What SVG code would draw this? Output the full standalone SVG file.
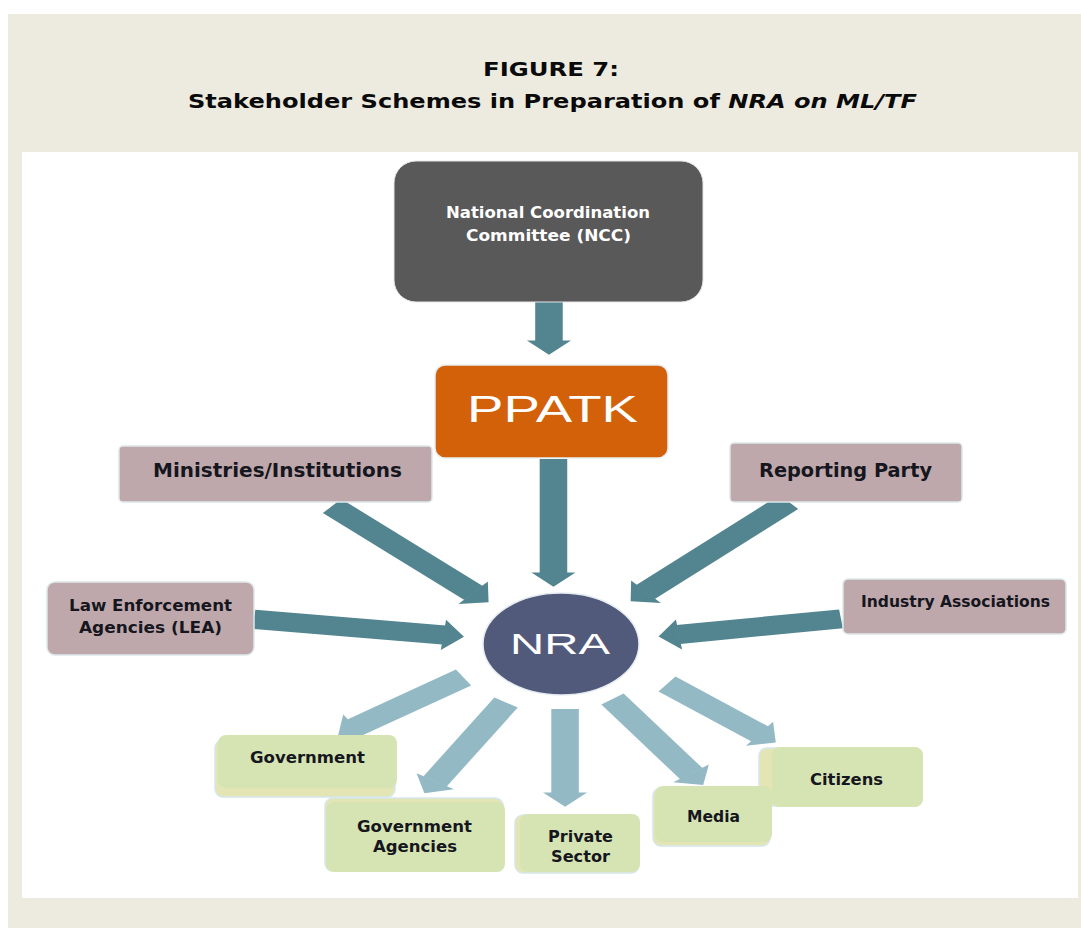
<svg xmlns="http://www.w3.org/2000/svg" width="1081" height="928" viewBox="0 0 1081 928">
<style>
.t{font-family:"DejaVu Sans","Liberation Sans",sans-serif;font-weight:bold}
.title{font-size:19.5px;fill:#0a0a0a}
.w{fill:#fff}
.lbl{fill:#16161e}
.mauve{fill:#BEA8AB;stroke:#DDE8EA;stroke-width:1.5}
.gb{fill:#E3E6B4;stroke:#D6E6EA;stroke-width:1.5}
.gf{fill:#D6E4B3}
.dk{stroke:#52858F;stroke-width:19;fill:none}
.lt{stroke:#93BAC4;stroke-width:19;fill:none}
.big{font-family:"Liberation Sans","DejaVu Sans",sans-serif;font-weight:normal;fill:#fff}
</style>
<defs>
<marker id="hdk" viewBox="0 -0.8 0.75 1.6" markerWidth="0.75" markerHeight="1.6" refX="0.02" refY="0" orient="auto" markerUnits="strokeWidth" overflow="visible"><path d="M0,-0.8 L0.75,0 L0,0.8 Z" fill="#52858F"/></marker>
<marker id="hlt" viewBox="0 -0.8 0.75 1.6" markerWidth="0.75" markerHeight="1.6" refX="0.02" refY="0" orient="auto" markerUnits="strokeWidth" overflow="visible"><path d="M0,-0.8 L0.75,0 L0,0.8 Z" fill="#93BAC4"/></marker>
</defs>
<rect x="8" y="14" width="1073" height="914" fill="#EDEADF"/>
<rect x="22" y="152" width="1056" height="746" fill="#FFFFFF"/>
<g id="title">
<text class="t title" x="483" y="76" textLength="136" lengthAdjust="spacingAndGlyphs">FIGURE 7:</text>
<text class="t title" x="188" y="108" textLength="729" lengthAdjust="spacingAndGlyphs">Stakeholder Schemes in Preparation of <tspan font-style="italic">NRA on ML/TF</tspan></text>
</g>
<g id="connectors" transform="scale(1.45,1)">
<line class="dk" x1="378.6" y1="300" x2="378.6" y2="341" marker-end="url(#hdk)"/>
<line class="dk" x1="381.7" y1="459" x2="381.7" y2="573" marker-end="url(#hdk)"/>
<line class="dk" x1="229" y1="506" x2="326.6" y2="593" marker-end="url(#hdk)"/>
<line class="dk" x1="544.1" y1="502" x2="445.2" y2="592" marker-end="url(#hdk)"/>
<line class="dk" x1="175" y1="619.3" x2="306.2" y2="635" marker-end="url(#hdk)"/>
<line class="dk" x1="580" y1="618.8" x2="467.9" y2="634.5" marker-end="url(#hdk)"/>
<line class="lt" x1="319.7" y1="677.5" x2="244.8" y2="727.3" marker-end="url(#hlt)"/>
<line class="lt" x1="349" y1="702.5" x2="300" y2="781.5" marker-end="url(#hlt)"/>
<line class="lt" x1="389.7" y1="709" x2="389.7" y2="793" marker-end="url(#hlt)"/>
<line class="lt" x1="422.4" y1="699" x2="476.8" y2="773.7" marker-end="url(#hlt)"/>
<line class="lt" x1="460" y1="684" x2="524.1" y2="734" marker-end="url(#hlt)"/>
</g>
<g id="ncc">
<rect x="394" y="161" width="309" height="141" rx="22" fill="#595959" stroke="#E6E6E6" stroke-width="1"/>
<text class="t w" x="446" y="218" font-size="15.5" textLength="204" lengthAdjust="spacingAndGlyphs">National Coordination</text>
<text class="t w" x="466" y="241" font-size="15.5" textLength="165" lengthAdjust="spacingAndGlyphs">Committee (NCC)</text>
</g>
<g id="ppatk">
<rect x="435" y="365" width="233" height="93" rx="10" fill="#D2610A" stroke="#E8EEF0" stroke-width="1.5"/>
<text class="big" x="467" y="422" font-size="36" textLength="171" lengthAdjust="spacingAndGlyphs">PPATK</text>
</g>
<g id="ministries">
<rect class="mauve" x="119" y="446" width="313" height="56" rx="4"/>
<text class="t lbl" x="153" y="477" font-size="19" textLength="249" lengthAdjust="spacingAndGlyphs">Ministries/Institutions</text>
</g>
<g id="reporting">
<rect class="mauve" x="730" y="443" width="232" height="59" rx="4"/>
<text class="t lbl" x="759" y="477" font-size="19" textLength="173" lengthAdjust="spacingAndGlyphs">Reporting Party</text>
</g>
<g id="lea">
<rect class="mauve" x="47" y="582" width="207" height="73" rx="8"/>
<text class="t lbl" x="69" y="611" font-size="16" textLength="163" lengthAdjust="spacingAndGlyphs">Law Enforcement</text>
<text class="t lbl" x="79" y="633" font-size="16" textLength="143" lengthAdjust="spacingAndGlyphs">Agencies (LEA)</text>
</g>
<g id="industry">
<rect class="mauve" x="843" y="579" width="223" height="55" rx="5"/>
<text class="t lbl" x="861" y="607" font-size="15" textLength="189" lengthAdjust="spacingAndGlyphs">Industry Associations</text>
</g>
<g id="nra">
<ellipse cx="561" cy="644" rx="78" ry="51" fill="#525A7C" stroke="#E4ECF0" stroke-width="1.5"/>
<text class="big" x="510" y="654" font-size="29" textLength="100" lengthAdjust="spacingAndGlyphs">NRA</text>
</g>
<g id="government">
<rect class="gb" x="215" y="740" width="180" height="57" rx="8"/>
<rect class="gf" x="218" y="735" width="179" height="53" rx="8"/>
<text class="t lbl" x="250" y="763" font-size="16.5" textLength="115" lengthAdjust="spacingAndGlyphs">Government</text>
</g>
<g id="gov-agencies">
<rect class="gb" x="325" y="798" width="178" height="73" rx="8"/>
<rect class="gf" x="326" y="802" width="179" height="70" rx="8"/>
<text class="t lbl" x="357" y="832" font-size="16.5" textLength="115" lengthAdjust="spacingAndGlyphs">Government</text>
<text class="t lbl" x="373" y="852" font-size="16.5" textLength="84" lengthAdjust="spacingAndGlyphs">Agencies</text>
</g>
<g id="private">
<rect class="gb" x="515" y="815" width="124" height="58" rx="8"/>
<rect class="gf" x="520" y="814" width="120" height="58" rx="8"/>
<text class="t lbl" x="548" y="842" font-size="16.5" textLength="65" lengthAdjust="spacingAndGlyphs">Private</text>
<text class="t lbl" x="551" y="862" font-size="16.5" textLength="59" lengthAdjust="spacingAndGlyphs">Sector</text>
</g>
<g id="citizens">
<rect class="gb" x="759" y="748" width="150" height="58" rx="8"/>
<rect class="gf" x="772" y="747" width="151" height="60" rx="8"/>
<text class="t lbl" x="810" y="785" font-size="16.5" textLength="73" lengthAdjust="spacingAndGlyphs">Citizens</text>
</g>
<g id="media">
<rect class="gb" x="653" y="788" width="117" height="58" rx="8"/>
<rect class="gf" x="655" y="786" width="117" height="56" rx="8"/>
<text class="t lbl" x="687" y="822" font-size="16.5" textLength="53" lengthAdjust="spacingAndGlyphs">Media</text>
</g>
</svg>
